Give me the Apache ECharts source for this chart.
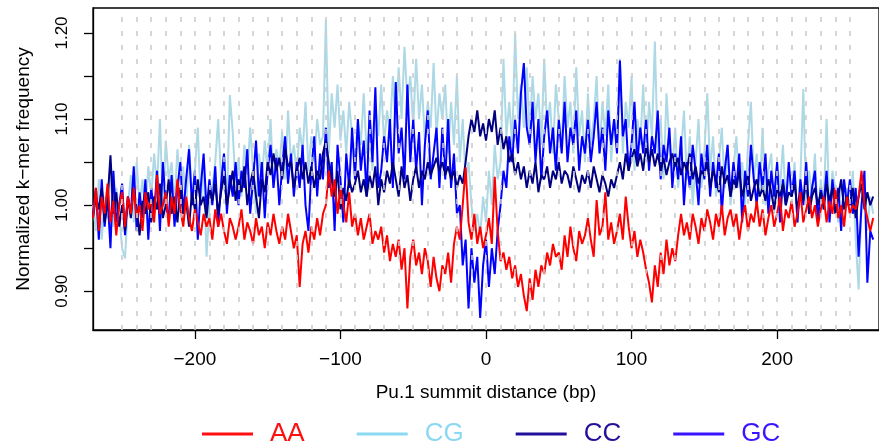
<!DOCTYPE html>
<html>
<head>
<meta charset="utf-8">
<title>k-mer frequency around Pu.1 summits</title>
<script src="https://cdn.jsdelivr.net/npm/echarts@6.0.0/dist/echarts.min.js"></script>
<style>
    html, body { margin: 0; padding: 0; background: #fff; }
    #chart { width: 879px; height: 448px; }
</style>
</head>
<body>
<div id="chart"></div>
<script>
// values, one every 2 bp starting at -270
var aa = [
    0.985, 1.02, 0.97, 1.01, 0.99, 1.025, 0.98, 1.005, 0.965, 1.0,
    1.015, 0.975, 1.01, 0.99, 1.02, 0.985, 1.0, 0.97, 1.015, 0.995,
    1.005, 0.98, 1.035, 0.99, 1.0, 1.015, 0.975, 1.01, 0.99, 1.03,
    0.995, 0.975, 1.01, 0.985, 0.97, 0.995, 0.98, 0.965, 0.99, 0.975,
    0.985, 0.96, 0.995, 0.975, 0.99, 0.97, 0.955, 0.985, 0.975, 0.96,
    0.975, 0.995, 0.96, 0.98, 0.97, 0.955, 0.985, 0.965, 0.975, 0.95,
    0.98, 0.965, 0.99, 0.97, 0.955, 0.975, 0.96, 0.99, 0.97, 0.95,
    0.965, 0.905, 0.955, 0.97, 0.945, 0.975, 0.96, 0.985, 0.965, 0.99,
    1.0, 1.04, 1.01, 1.03, 0.99, 1.02, 1.0, 0.98, 1.015, 0.975,
    0.99, 0.965, 0.985, 0.96, 0.975, 0.99, 0.955, 0.97, 0.96, 0.975,
    0.945, 0.965, 0.935, 0.955, 0.94, 0.96, 0.925, 0.95, 0.88, 0.94,
    0.96, 0.93, 0.945, 0.92, 0.95, 0.935, 0.905, 0.94, 0.915, 0.9,
    0.93, 0.92, 0.945, 0.91, 0.955, 0.975, 0.96, 1.0, 1.044, 0.98,
    0.96, 0.99, 0.955, 0.975, 0.95, 0.965, 0.985, 0.955, 1.033, 0.97,
    0.935, 0.945, 0.925, 0.94, 0.915, 0.93, 0.905, 0.92, 0.895, 0.877,
    0.915, 0.89, 0.925, 0.905, 0.93, 0.92, 0.945, 0.93, 0.955, 0.94,
    0.945, 0.925, 0.965, 0.94, 0.975, 0.95, 0.935, 0.97, 0.955, 0.965,
    0.985, 0.96, 0.94, 1.006, 0.965, 0.975, 1.015, 0.96, 0.98, 0.955,
    0.97, 0.99, 0.96, 1.01, 0.975, 0.95, 0.97, 0.94, 0.96, 0.945,
    0.925, 0.91, 0.887, 0.93, 0.905, 0.945, 0.92, 0.96, 0.93, 0.95,
    0.935, 0.965, 0.99, 0.965, 0.98, 0.96, 0.99, 0.975, 0.955, 0.985,
    0.97, 0.995, 0.98, 0.96, 0.99, 0.975, 1.0, 0.965, 0.985, 0.995,
    0.975, 0.99, 0.96, 0.985, 1.0, 0.97, 0.99, 0.98, 1.005, 0.975,
    0.995, 0.965, 0.985, 1.0, 0.975, 0.99, 1.01, 0.97, 0.995, 0.985,
    1.005, 0.975, 0.99, 1.015, 0.98, 0.995, 1.01, 0.985, 1.0, 0.975,
    0.995, 1.01, 0.98, 1.005, 0.99, 1.02, 0.985, 1.0, 0.975, 1.01,
    0.99, 1.0, 0.995, 1.01, 1.04, 1.0, 0.985, 0.97, 0.985
];
var cg = [
    1.0, 0.97, 1.03, 0.96, 1.01, 0.985, 1.04, 0.975, 1.02, 0.99,
    0.95, 0.938, 1.0, 1.035, 0.98, 1.05, 1.0, 1.03, 0.99, 1.045,
    1.01, 1.06, 1.02, 1.10, 0.995, 1.075, 1.03, 1.05, 1.0, 1.065,
    1.02, 1.045, 0.99, 1.07, 1.01, 1.04, 1.09, 1.0, 1.05, 0.94,
    1.0, 1.02, 1.05, 1.1, 1.03, 1.06, 1.0, 1.128, 1.085, 1.02,
    1.055, 1.01, 1.07, 1.035, 1.09, 1.04, 0.99, 1.06, 1.03, 1.075,
    1.04, 1.1, 1.02, 1.065, 1.045, 1.085, 1.03, 1.11, 1.05, 1.07,
    1.035, 1.09, 1.06, 1.12, 1.04, 1.08, 1.05, 1.1, 1.07, 1.08,
    1.215, 1.06, 1.13, 1.09, 1.14, 1.075, 1.11, 1.06, 1.12, 1.08,
    1.05, 1.1, 1.07, 1.13, 1.06, 1.095, 1.04, 1.12, 1.08, 1.14,
    1.07, 1.11, 1.085, 1.15, 1.09, 1.16, 1.1, 1.184, 1.12, 1.15,
    1.09, 1.17, 1.1, 1.14, 1.075, 1.12, 1.09, 1.165, 1.08, 1.13,
    1.1, 1.14, 1.06, 1.12, 1.07, 1.15, 1.05, 1.1, 1.03, 1.05,
    1.0, 0.97, 0.99, 0.965, 1.01, 0.98, 1.04, 1.0, 1.07, 1.03,
    1.05, 1.17, 1.08, 1.12, 1.07, 1.2, 1.1, 1.14, 1.09, 1.16,
    1.08, 1.15, 1.1, 1.13, 1.07, 1.17, 1.09, 1.12, 1.06, 1.14,
    1.1, 1.07, 1.15, 1.09, 1.12, 1.06, 1.16, 1.08, 1.11, 1.05,
    1.13, 1.07, 1.1, 1.15, 1.06, 1.12, 1.08, 1.14, 1.05, 1.1,
    1.08, 1.17, 1.06, 1.12, 1.09, 1.15, 1.04, 1.1, 1.07, 1.14,
    1.05, 1.12, 1.08, 1.19, 1.06, 1.1, 1.03, 1.13, 1.07, 1.04,
    1.09, 1.02, 1.06, 1.11, 1.03, 1.08, 1.0, 1.05, 1.1, 1.02,
    1.06, 1.13, 1.04, 1.08, 1.01, 1.05, 1.09, 1.02, 1.06, 1.0,
    1.04, 1.08, 1.02, 1.05, 1.0, 1.07, 1.12, 1.03, 1.06, 1.01,
    1.09, 1.0, 1.04, 1.06, 0.99, 1.05, 1.02, 1.07, 1.0, 1.04,
    1.01, 1.05, 0.98, 1.03, 1.135, 1.0, 1.04, 1.01, 1.06, 0.98,
    1.03, 1.0, 1.1, 0.99, 1.04, 1.02, 0.98, 1.03, 1.0, 1.02,
    0.99, 1.04, 0.96, 0.902, 1.0, 1.03, 0.97, 1.01, 0.99
];
var cc = [
    0.985, 1.01, 0.995, 1.02, 0.98, 1.005, 1.058, 0.99, 1.015, 0.975,
    1.0, 0.97, 1.01, 0.985, 1.02, 0.995, 0.965, 1.005, 0.99, 1.015,
    0.98, 1.01, 0.995, 1.025, 0.985, 1.0, 1.03, 0.99, 1.01, 0.98,
    1.02, 0.99, 1.005, 0.975, 1.015, 0.995, 1.03, 1.0, 1.01, 0.985,
    1.02, 1.005, 1.025, 0.99, 1.015, 1.035, 1.0, 1.02, 1.04, 1.005,
    1.03, 1.015, 1.045, 1.0, 1.025, 1.04, 1.01, 0.985, 1.03, 1.015,
    1.05, 1.035, 1.06, 1.04, 1.055, 1.03, 1.065, 1.045, 1.05, 1.02,
    1.04, 1.055, 1.03, 1.05, 1.025, 1.045, 1.02, 1.04, 1.03, 1.06,
    1.075, 1.05, 1.03, 1.01, 1.04, 0.995, 1.02, 1.005, 1.03, 1.015,
    1.025, 1.04, 1.015, 1.03, 1.01, 1.035, 1.02, 1.045, 1.0, 1.03,
    1.015, 1.04, 1.025, 1.05, 1.03, 1.01, 1.045, 1.02, 1.035, 1.005,
    1.03, 1.045, 1.02, 1.04, 1.03, 1.05, 1.035, 1.045, 1.055, 1.04,
    1.05, 1.035, 1.045, 1.03, 1.04, 1.02, 1.035, 1.025, 1.05, 1.08,
    1.1, 1.085, 1.11, 1.08, 1.095, 1.075, 1.1, 1.085, 1.11, 1.07,
    1.09, 1.065, 1.08, 1.05, 1.06, 1.035, 1.05, 1.03, 1.045, 1.02,
    1.04, 1.025, 1.05, 1.015, 1.035, 1.03, 1.045, 1.02, 1.04, 1.03,
    1.05, 1.025, 1.04, 1.035, 1.02, 1.045, 1.03, 1.015, 1.035, 1.025,
    1.04, 1.02, 1.045, 1.03, 1.015, 1.035, 1.025, 1.01, 1.03, 1.02,
    1.035, 1.05, 1.03, 1.06, 1.04, 1.055, 1.065, 1.045, 1.06, 1.04,
    1.07, 1.05, 1.065, 1.045, 1.06, 1.04, 1.055, 1.035, 1.05, 1.06,
    1.045, 1.055, 1.035, 1.05, 1.04, 1.06, 1.03, 1.045, 1.025, 1.04,
    1.035, 1.05, 1.02, 1.04, 1.03, 1.015, 1.045, 1.025, 1.035, 1.01,
    1.03, 1.02, 1.04, 1.01, 1.025, 1.035, 1.005, 1.02, 1.03, 1.01,
    1.02, 1.005, 1.03, 1.015, 0.995, 1.02, 1.01, 1.025, 1.0, 1.015,
    1.01, 1.025, 0.995, 1.015, 1.005, 1.03, 0.99, 1.01, 1.02, 1.0,
    1.015, 0.995, 1.025, 1.005, 1.02, 0.99, 1.01, 1.03, 0.995, 1.01,
    1.0, 1.02, 0.985, 1.01, 1.025, 0.995, 1.015, 1.0, 1.01
];
var gc = [
    0.99, 1.02, 0.96, 1.03, 0.975, 1.01, 0.95, 1.04, 0.98, 1.0,
    1.025, 0.965, 1.01, 0.99, 1.045, 0.97, 1.015, 0.985, 1.03, 0.96,
    1.02, 0.99, 1.04, 0.97, 1.05, 1.0, 0.985, 1.035, 0.975, 1.02,
    1.05, 0.99, 1.03, 1.065, 1.0, 1.04, 0.96, 1.02, 1.06, 0.995,
    1.03, 1.0, 1.045, 0.975, 1.025, 1.06, 0.99, 1.035, 1.01, 1.05,
    1.0, 1.04, 1.02, 1.065, 0.99, 1.03, 1.075, 1.01, 1.05, 0.985,
    1.04, 1.07, 1.02, 1.055, 1.0, 1.045, 1.08, 1.025, 1.06, 1.01,
    1.05, 1.02, 1.07, 1.0, 0.97, 1.04, 1.08, 1.01, 1.06, 1.03,
    1.09, 1.02, 1.05, 0.97, 1.07, 1.03, 0.98, 1.06, 1.02, 1.09,
    1.03, 1.1, 1.04, 1.075, 1.01, 1.11, 1.05, 1.137, 1.02, 1.04,
    1.08, 1.05, 1.1, 1.02, 1.143, 1.06, 1.09, 1.03, 1.14, 1.05,
    1.1, 1.04, 1.085, 1.0, 1.07, 1.11, 1.03, 1.06, 1.09, 1.02,
    1.09, 1.03, 1.1, 1.02, 1.06, 0.99, 1.0, 0.93, 0.96, 0.88,
    0.95, 0.91, 0.94, 0.869, 0.93, 0.96, 0.905, 0.95, 0.92, 0.97,
    1.0, 1.04, 1.02, 1.08, 1.05, 1.1, 1.06, 1.13, 1.165, 1.09,
    1.07, 1.12, 1.05, 1.1, 1.03, 1.08, 1.11, 1.06, 1.09, 1.04,
    1.1, 1.06, 1.12, 1.05, 1.09, 1.07, 1.11, 1.04, 1.08, 1.06,
    1.1, 1.05, 1.08, 1.12, 1.06, 1.09, 1.04, 1.11, 1.07, 1.1,
    1.06, 1.168, 1.08, 1.1, 1.04, 1.07, 1.12, 1.05, 1.09, 1.06,
    1.1, 1.04, 1.08, 1.06, 1.11, 1.03, 1.07, 1.05, 1.09, 1.02,
    1.06, 1.03, 1.08, 1.0, 1.05, 1.02, 1.07, 1.04, 1.0, 1.06,
    1.03, 1.07, 1.01, 1.05, 1.02, 1.06, 0.99, 1.04, 1.07, 1.01,
    1.05, 1.02, 1.06, 0.98, 1.04, 1.01, 1.07, 1.03, 1.0, 1.05,
    1.02, 1.06, 0.99, 1.04, 1.01, 1.05, 0.98, 1.03, 1.0, 1.05,
    1.01, 1.04, 0.98, 1.03, 1.0, 1.05, 0.99, 1.02, 1.04, 0.98,
    1.02, 1.0, 1.04, 0.98, 1.03, 1.0, 1.02, 0.97, 1.03, 1.0,
    1.03, 0.99, 1.02, 0.94, 1.0, 1.04, 0.91, 0.97, 0.96
];

var startBp = -270, stepBp = 2;
var xTicks = [-200, -100, 0, 100, 200];
var yTicks = [0.9, 0.95, 1.0, 1.05, 1.1, 1.15, 1.2];
var yLabels = [0.9, 1.0, 1.1, 1.2];

var chart = (function (w) {

    var myChart;

    var toPairs = function (arr) {
        var out = [];
        for (var i = 0; i < arr.length; i++) {
            out.push([startBp + i * stepBp, arr[i]]);
        }
        return out;
    };

    // dashed guide lines every 10 bp
    var guides = function () {
        var out = [];
        for (var v = -250; v <= 250; v += 10) {
            out.push({xAxis: v});
        }
        return out;
    };

    var lineSeries = function (name, arr, color) {
        return {
            name: name,
            type: 'line',
            data: toPairs(arr),
            showSymbol: false,
            symbol: 'none',
            silent: true,
            lineStyle: {color: color, width: 2},
            itemStyle: {color: color},
            emphasis: {disabled: true}
        };
    };

    var legendItem = function (name, color) {
        return {
            name: name,
            itemStyle: {color: color},
            textStyle: {color: color}
        };
    };

    function draw(id) {
        myChart = echarts.init(document.getElementById(id), null, {renderer: 'canvas'});
        var option = {
            animation: false,
            textStyle: {fontFamily: '"Liberation Sans", Arial, sans-serif', color: '#000'},
            grid: {
                left: 93,
                right: -4,
                top: 8,
                bottom: 118,
                show: true,
                borderColor: '#000',
                borderWidth: 1.3,
                backgroundColor: 'transparent'
            },
            legend: {
                left: 197,
                top: 416,
                icon: 'rect',
                itemWidth: 51,
                itemHeight: 3,
                itemGap: 52,
                selectedMode: false,
                textStyle: {fontSize: 26, padding: [0, 0, 0, 12]},
                data: [
                    legendItem('AA', '#ff1010'),
                    legendItem('CG', '#8ad8f2'),
                    legendItem('CC', '#22109a'),
                    legendItem('GC', '#3a14ff')
                ]
            },
            xAxis: {
                type: 'value',
                min: -270,
                max: 270,
                name: 'Pu.1 summit distance (bp)',
                nameLocation: 'middle',
                nameGap: 53,
                nameTextStyle: {fontSize: 19, color: '#000'},
                axisLine: {show: true, onZero: false, lineStyle: {color: '#000', width: 1.3}},
                axisTick: {show: true, length: 9, customValues: xTicks, lineStyle: {color: '#000', width: 1.3}},
                axisLabel: {
                    customValues: xTicks,
                    fontSize: 19,
                    color: '#000',
                    margin: 20,
                    formatter: function (v) { return String(v).replace('-', '\u2212'); }
                },
                splitLine: {show: false}
            },
            yAxis: {
                type: 'value',
                min: 0.855,
                max: 1.229,
                name: 'Normalized k\u2212mer frequency',
                nameLocation: 'middle',
                nameGap: 60,
                nameTextStyle: {fontSize: 19, color: '#000'},
                axisLine: {show: true, onZero: false, lineStyle: {color: '#000', width: 1.3}},
                axisTick: {show: true, length: 9, customValues: yTicks, lineStyle: {color: '#000', width: 1.3}},
                axisLabel: {
                    customValues: yLabels,
                    rotate: 90,
                    fontSize: 17,
                    color: '#000',
                    margin: 22,
                    formatter: function (v) { return v.toFixed(2); }
                },
                splitLine: {show: false}
            },
            series: [
                {
                    name: 'guides',
                    type: 'line',
                    data: [],
                    silent: true,
                    markLine: {
                        silent: true,
                        symbol: ['none', 'none'],
                        label: {show: false},
                        emphasis: {disabled: true},
                        lineStyle: {type: [5, 9], color: '#cccccc', width: 1.6},
                        data: guides()
                    }
                },
                lineSeries('CG', cg, '#add8e6'),
                lineSeries('GC', gc, '#0000ff'),
                lineSeries('CC', cc, '#000080'),
                lineSeries('AA', aa, '#ff0000')
            ]
        };
        myChart.setOption(option);
    }

    draw('chart');

    return {
        "chart": function () { return myChart; }
    };

}(window));
</script>
</body>
</html>
